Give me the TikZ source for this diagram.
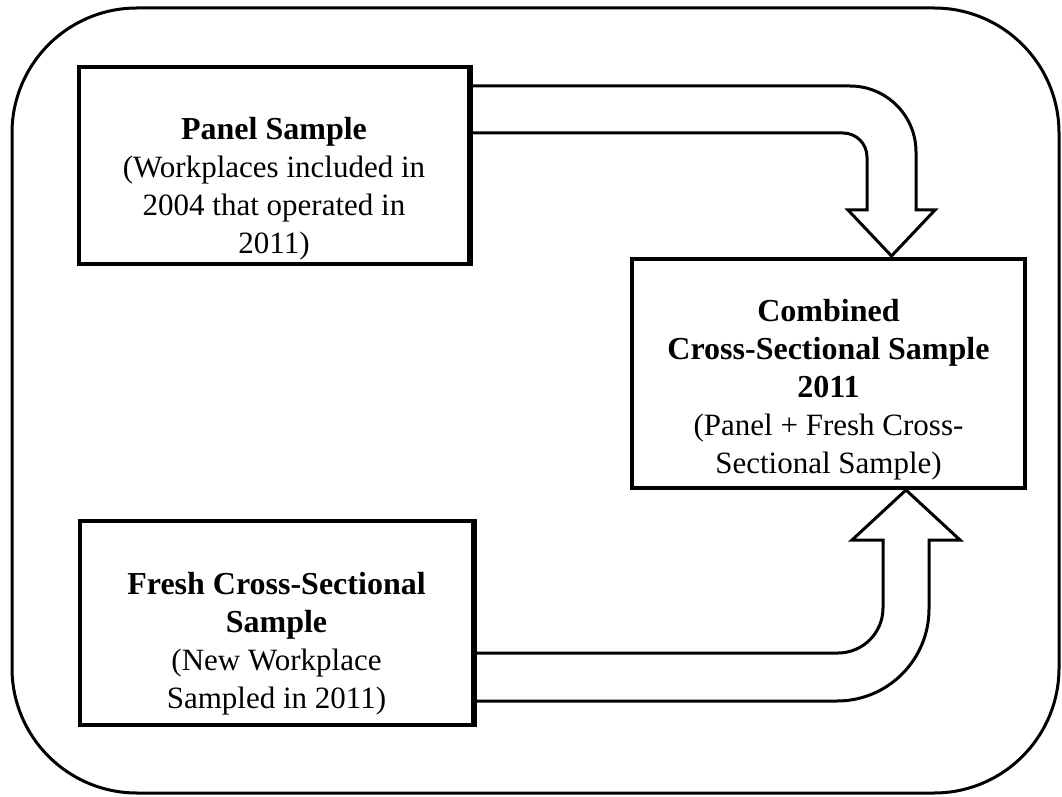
\documentclass[tikz,border=0pt]{standalone}
\usepackage{fontspec}
\setmainfont{Liberation Serif}
\newcommand{\plainline}[1]{{\fontsize{31}{38}\selectfont #1}}
\begin{document}
\begin{tikzpicture}[x=1pt,y=1pt,
  frame/.style={draw, line width=3pt, rounded corners=125pt},
  samplebox/.style={draw, line width=4pt, rectangle, inner sep=0pt},
  boxtext/.style={align=center, font=\fontsize{32}{38}\selectfont},
  blockarrow/.style={draw, line width=3pt, line join=miter, fill=white}]
\useasboundingbox (0,0) rectangle (1062,796);

% surrounding frame
\draw[frame] (12,3) rectangle (1059,788);

% the three sample boxes
\node[samplebox, minimum width=390pt, minimum height=197pt] (panel) at (274,630.5) {};
\node[samplebox, minimum width=393pt, minimum height=229pt] (combined) at (828.5,422.5) {};
\node[samplebox, minimum width=393pt, minimum height=204pt] (fresh) at (276.5,173) {};

\node[boxtext] (paneltext) at (274,607) {\textbf{Panel Sample}\\\plainline{(Workplaces included in}\\\plainline{2004 that operated in}\\\plainline{2011)}};
\node[boxtext] (combtext) at (828.5,406) {\textbf{Combined}\\\textbf{Cross-Sectional Sample}\\\textbf{2011}\\\plainline{(Panel + Fresh Cross-}\\\plainline{Sectional Sample)}};
\node[boxtext] (freshtext) at (276.5,152) {\textbf{Fresh Cross-Sectional}\\\textbf{Sample}\\\plainline{(New Workplace}\\\plainline{Sampled in 2011)}};

% bent block arrow: panel sample into the combined sample
\draw[blockarrow] (panel.east |- 0,710) -- (850,710)
  arc[start angle=90, end angle=0, radius=66]
  -- (916,586) -- (935,586) -- (891.5,540) -- (848,586) -- (867,586)
  -- (867,639) arc[start angle=0, end angle=90, radius=24]
  -- (panel.east |- 0,663);

% bent block arrow: fresh sample up into the combined sample
\draw[blockarrow] (fresh.east |- 0,143) -- (838,143)
  arc[start angle=270, end angle=360, radius=45]
  -- (883,256) -- (852,256) -- (906,306) -- (960,256) -- (929,256)
  -- (929,187) arc[start angle=0, end angle=-90, radius=92]
  -- (fresh.east |- 0,95);

% redraw the box edges over the arrow ends
\draw[line width=4pt] (panel.north east) -- (panel.south east);
\draw[line width=4pt] (fresh.north east) -- (fresh.south east);
\end{tikzpicture}
\end{document}
